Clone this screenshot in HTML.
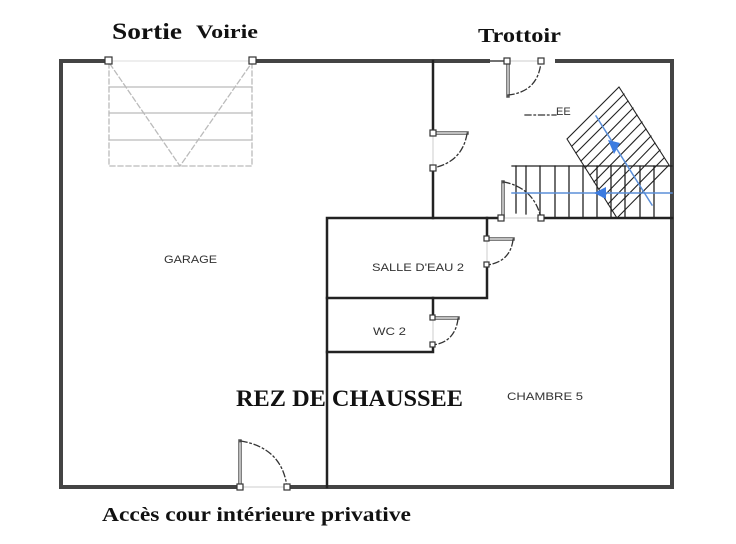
<!DOCTYPE html>
<html><head><meta charset="utf-8"><style>
html,body{margin:0;padding:0;background:#fff;width:736px;height:544px;overflow:hidden}
svg{display:block}
.t{font-family:"Liberation Serif",serif;font-weight:bold;fill:#111}
.r{font-family:"Liberation Sans",sans-serif;font-size:11px;fill:#333}
</style></head><body>
<svg width="736" height="544" viewBox="0 0 736 544">
<g fill="none" stroke-linecap="square">
<g stroke="#444" stroke-width="4">
<path d="M108 61 H61 V487 H240"/>
<path d="M287 487 H672 V61 H557"/>
<path d="M252 61 H488"/>
</g>
<path d="M488 61 H507" stroke="#444" stroke-width="1.5"/>
<g stroke="#bbb" stroke-width="1.3" stroke-dasharray="5,3">
<path d="M109 63 V166 H252 V63"/>
<path d="M110 64 L180 166 L251 64"/>
</g>
<g stroke="#bbb" stroke-width="1.2"><path d="M109 87 H252 M109 113 H252 M109 140 H252"/></g>
<path d="M109 61 H252" stroke="#ddd" stroke-width="1"/>
<g stroke="#222" stroke-width="2.5">
<path d="M433 61 V133 M433 168 V218"/>
<path d="M327 487 V218 H501"/>
<path d="M541 218 H672"/>
<path d="M487 218 V239 M487 265 V298 H327"/>
<path d="M433 298 V318 M433 345 V352 H327"/>
</g>
<g stroke="#555" stroke-width="3.5"><path d="M433 133 H467 M487 239 H513 M433 318 H458"/></g>
<g stroke="#fff" stroke-width="1.2"><path d="M435 133 H466 M489 239 H512 M435 318 H457"/></g>
<g stroke="#555" stroke-width="3.5"><path d="M508 62 V96 M240 441 V487 M503 182 V217"/></g>
<g stroke="#fff" stroke-width="1.2"><path d="M508 64 V95 M240 443 V486 M503 184 V216"/></g>
<g stroke="#333" stroke-width="1.3" stroke-dasharray="6,3,1.5,3">
<path d="M467 134 Q462 162 433 168"/>
<path d="M513 240 Q510 262 487 265"/>
<path d="M458 319 Q455 342 433 345"/>
<path d="M508 95 Q538 92 541 62"/>
<path d="M241 441 Q282 448 287 487"/>
<path d="M504 182 Q534 188 541 218"/>
<path d="M525 115 H556"/>
</g>
<g stroke="#ccc" stroke-width="1"><path d="M433 133 V168 M487 239 V265 M433 318 V345 M507 61 H541 M240 487 H287 M501 218 H541"/></g>
<g stroke="#333" stroke-width="1.2" fill="#fff">
<rect x="105" y="57" width="7" height="7"/><rect x="249" y="57" width="7" height="7"/>
<rect x="504" y="58" width="6" height="6"/><rect x="538" y="58" width="6" height="6"/>
<rect x="430" y="130" width="6" height="6"/><rect x="430" y="165" width="6" height="6"/>
<rect x="498" y="215" width="6" height="6"/><rect x="538" y="215" width="6" height="6"/>
<rect x="484" y="236" width="5" height="5"/><rect x="484" y="262" width="5" height="5"/>
<rect x="430" y="315" width="5" height="5"/><rect x="430" y="342" width="5" height="5"/>
<rect x="237" y="484" width="6" height="6"/><rect x="284" y="484" width="6" height="6"/>
</g>
<g stroke="#222" stroke-width="1.3">
<path d="M512 166 H672"/>
<path d="M526 166 V214 M540 166 V214 M555 166 V218 M569 166 V218 M583 166 V218 M597 166 V218 M611 166 V218 M625 166 V218 M640 166 V218 M654 166 V218 M516 166 V213"/>
</g>
<g stroke="#222" stroke-width="1.1">
<path d="M619 87 L669 165 L617 218 L567 139 Z"/>
<path d="M624 94 L572 146 M628 101 L576 153 M633 108 L581 161 M637 115 L585 168 M642 122 L590 175 M646 129 L594 182 M651 136 L599 189 M655 143 L603 197 M660 150 L608 204 M664 158 L612 211"/>
</g>
<g stroke="#5b8fd9" stroke-width="1.5">
<path d="M596 116 L652 205"/>
<path d="M512 193 H672"/>
</g>
<path d="M608 140 L620 143 L614 154 Z" fill="#3b7be0"/>
<path d="M594 193 L606 187 L606 199 Z" fill="#3b7be0"/>
</g>
<text x="112" y="39" class="t" font-size="23" textLength="70" lengthAdjust="spacingAndGlyphs">Sortie</text>
<text x="196" y="38" class="t" font-size="19" textLength="62" lengthAdjust="spacingAndGlyphs">Voirie</text>
<text x="478" y="42" class="t" font-size="20" textLength="83" lengthAdjust="spacingAndGlyphs">Trottoir</text>
<text x="236" y="406" class="t" font-size="23" textLength="227" lengthAdjust="spacingAndGlyphs">REZ DE CHAUSSEE</text>
<text x="102" y="521" class="t" font-size="20" textLength="309" lengthAdjust="spacingAndGlyphs">Accès cour intérieure privative</text>
<text x="556" y="115" class="r">EE</text>
<text x="164" y="263" class="r" textLength="53" lengthAdjust="spacingAndGlyphs">GARAGE</text>
<text x="372" y="271" class="r" textLength="92" lengthAdjust="spacingAndGlyphs">SALLE D'EAU 2</text>
<text x="373" y="335" class="r" textLength="33" lengthAdjust="spacingAndGlyphs">WC 2</text>
<text x="507" y="400" class="r" textLength="76" lengthAdjust="spacingAndGlyphs">CHAMBRE 5</text>
</svg>
</body></html>
